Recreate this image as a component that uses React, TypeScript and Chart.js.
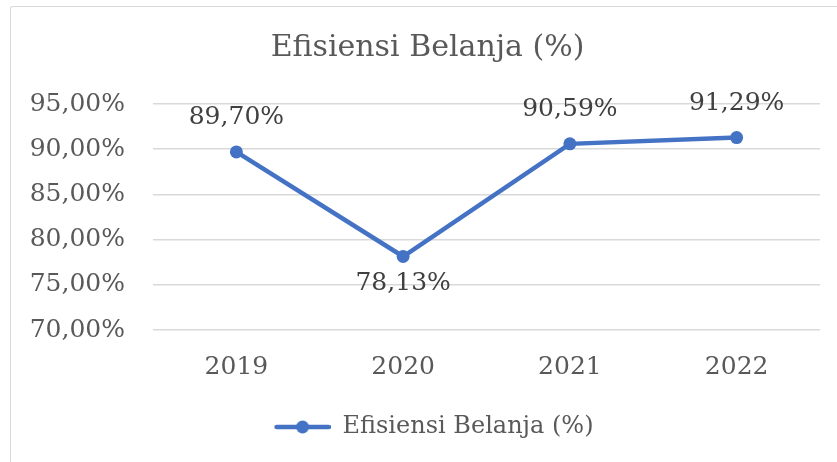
import { useEffect, useRef } from "react";
import { Chart, registerables } from "chart.js";

Chart.register(...registerables);

const chartTitle = "Efisiensi Belanja (%)";
const seriesName = "Efisiensi Belanja (%)";
const categories = ["2019", "2020", "2021", "2022"];
const values = [89.7, 78.13, 90.59, 91.29];
const yTickValues = [70, 75, 80, 85, 90, 95];
const labelSides = ["above", "below", "above", "above"];

const BLUE = "#4472C4";
const TEXT_GRAY = "#595959";
const FONT = "'DejaVu Serif', serif";
const MARKER_OFFSET = 48;

const fmt = (v: number) => v.toFixed(2).replace(".", ",") + "%";

function makeLegendMarker(): HTMLCanvasElement {
  const c = document.createElement("canvas");
  c.width = MARKER_OFFSET + 56;
  c.height = 16;
  const ctx = c.getContext("2d")!;
  ctx.strokeStyle = BLUE;
  ctx.lineWidth = 4.5;
  ctx.lineCap = "round";
  ctx.beginPath();
  ctx.moveTo(MARKER_OFFSET + 2, 8);
  ctx.lineTo(MARKER_OFFSET + 54, 8);
  ctx.stroke();
  ctx.fillStyle = BLUE;
  ctx.beginPath();
  ctx.arc(MARKER_OFFSET + 28, 8, 6.5, 0, Math.PI * 2);
  ctx.fill();
  return c;
}

const dataLabelPlugin = {
  id: "dataLabels",
  afterDatasetsDraw(chart: any) {
    const meta = chart.getDatasetMeta(0);
    const ctx = chart.ctx;
    ctx.save();
    ctx.font = `25px ${FONT}`;
    ctx.fillStyle = "#404040";
    ctx.textAlign = "center";
    ctx.textBaseline = "middle";
    meta.data.forEach((pt: any, i: number) => {
      const off = labelSides[i] === "below" ? 27 : -34;
      ctx.fillText(fmt(values[i]), pt.x, pt.y + off);
    });
    ctx.restore();
  },
};

const titlePlugin = {
  id: "excelTitle",
  afterDraw(chart: any) {
    const ctx = chart.ctx;
    ctx.save();
    ctx.font = `30px ${FONT}`;
    ctx.fillStyle = TEXT_GRAY;
    ctx.textAlign = "center";
    ctx.textBaseline = "middle";
    ctx.fillText(chartTitle, 427.5, 48);
    ctx.restore();
  },
};

export default function App() {
  const ref = useRef<HTMLCanvasElement | null>(null);

  useEffect(() => {
    if (!ref.current) return;
    const marker = makeLegendMarker();
    const chart = new Chart(ref.current, {
      type: "line",
      data: {
        labels: categories,
        datasets: [
          {
            label: seriesName,
            data: values,
            borderColor: BLUE,
            backgroundColor: BLUE,
            borderWidth: 4.5,
            pointRadius: 6.5,
            pointBackgroundColor: BLUE,
            pointBorderWidth: 0,
            tension: 0,
          },
        ],
      },
      options: {
        responsive: false,
        animation: false,
        devicePixelRatio: 1,
        layout: { padding: { left: 0, right: 17, top: 104, bottom: 13 } },
        plugins: {
          title: { display: false },
          legend: {
            position: "bottom",
            labels: {
              usePointStyle: true,
              pointStyleWidth: MARKER_OFFSET + 56,
              padding: 19,
              color: TEXT_GRAY,
              font: { family: FONT, size: 24 },
              generateLabels: () => [
                {
                  text: seriesName,
                  pointStyle: marker,
                  fillStyle: BLUE,
                  strokeStyle: BLUE,
                  fontColor: TEXT_GRAY,
                  lineWidth: 0,
                  hidden: false,
                  datasetIndex: 0,
                } as any,
              ],
            },
          },
          tooltip: { enabled: false },
        },
        scales: {
          x: {
            offset: true,
            grid: { display: false },
            border: { display: false },
            ticks: {
              color: TEXT_GRAY,
              font: { family: FONT, size: 25 },
              padding: 14,
            },
          },
          y: {
            min: 70,
            max: 95,
            afterBuildTicks: (scale: any) => {
              scale.ticks = yTickValues.map((v) => ({ value: v }));
            },
            afterFit: (scale: any) => {
              scale.width = 153;
            },
            grid: { color: "#d9d9d9", lineWidth: 1.5, drawTicks: false },
            border: { display: false },
            ticks: {
              color: TEXT_GRAY,
              font: { family: FONT, size: 25 },
              padding: 28,
              callback: (v: any) => fmt(Number(v)),
            },
          },
        },
      },
      plugins: [dataLabelPlugin, titlePlugin],
    });
    return () => chart.destroy();
  }, []);

  return (
    <div style={{ position: "fixed", left: 0, top: 0, width: 837, height: 462, background: "#fff", overflow: "hidden" }}>
      <div
        style={{
          position: "absolute",
          left: 10,
          top: 6,
          width: 900,
          height: 520,
          borderLeft: "1.5px solid #d9d9d9",
          borderTop: "1.5px solid #d9d9d9",
          borderRadius: 3,
        }}
      />
      <canvas ref={ref} width={837} height={462} style={{ position: "absolute", left: 0, top: 0, width: 837, height: 462 }} />
    </div>
  );
}
